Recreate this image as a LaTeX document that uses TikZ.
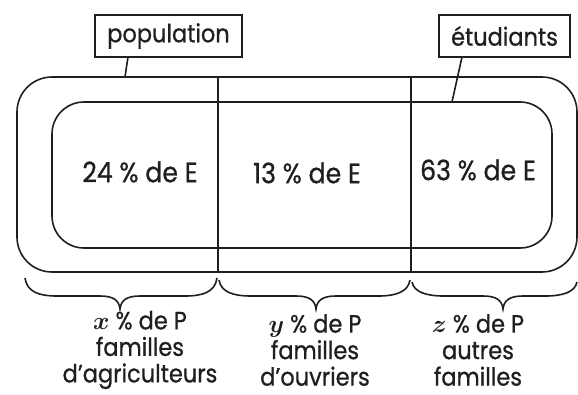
\documentclass[tikz,border=0pt]{standalone}
\usepackage{fontspec}
\setmainfont{Poppins}[FakeStretch=0.9,FakeBold=0.8]
\usepackage{bm}
\newcommand\handbrace[4]{% left x, tip x, right x, end y
  \draw[ln] (#1,#4) .. controls (#1+2,292) and (#1+14,296) .. (#1+32,296)
    -- (#2-20,296) .. controls (#2-7,296) and (#2-1,300) .. (#2,309)
    .. controls (#2+1,300) and (#2+7,296) .. (#2+20,296)
    -- (#3-32,296) .. controls (#3-14,296) and (#3-2,292) .. (#3,#4);}
\begin{document}
\begin{tikzpicture}[x=1pt,y=-1pt,
  ln/.style={line width=1.6pt, color=black!88},
  region/.style={ln, draw, outer sep=0pt, inner sep=0pt},
  lblbox/.style={draw, line width=1.3pt, color=black!88, outer sep=0pt, inner sep=0pt,
    minimum height=42pt, font=\fontsize{25}{27}\selectfont},
  big/.style={inner sep=0pt, font=\fontsize{28}{30}\selectfont, text=black!88},
  low/.style={inner sep=0pt, align=center, font=\fontsize{25}{26.5}\selectfont, text=black!88}]
\useasboundingbox (0,0) rectangle (578,394);
% regions
\node[region, minimum width=560pt, minimum height=195pt, rounded corners=35pt] (pop) at (297,174.5) {};
\node[region, minimum width=500pt, minimum height=146pt, rounded corners=32pt] (etu) at (302,175) {};
% dividers
\coordinate (d1) at (218,0);
\coordinate (d2) at (411,0);
\draw[ln] (pop.north -| d1) -- (pop.south -| d1);
\draw[ln] (pop.north -| d2) -- (pop.south -| d2);
% labels
\node[lblbox, minimum width=147pt] (popl) at (168.5,36) {population};
\node[lblbox, minimum width=131pt] (etul) at (504.5,36) {étudiants};
\coordinate (pa) at (128,0);
\coordinate (pb) at (125,0);
\coordinate (ea) at (462,0);
\coordinate (eb) at (452,0);
\draw[ln] (popl.south -| pa) -- (pop.north -| pb);
\draw[ln] (etul.south -| ea) -- (etu.north -| eb);
% inner texts
\node[big] (e1) at (140,172) {24 \% de E};
\node[big] (e2) at (307,173) {13 \% de E};
\node[big] (e3) at (478,170) {63 \% de E};
% braces
\handbrace{25}{120}{217}{278}
\handbrace{219}{316}{410}{280}
\handbrace{412}{503}{577}{282}
% bottom texts
\node[low] (c1) at (140,350) {$\bm{x}$ \% de P\\familles\\d'agriculteurs};
\node[low] (c2) at (315,350) {$\bm{y}$ \% de P\\familles\\d'ouvriers};
\node[low] (c3) at (478,350) {$\bm{z}$ \% de P\\autres\\familles};
\end{tikzpicture}
\end{document}
